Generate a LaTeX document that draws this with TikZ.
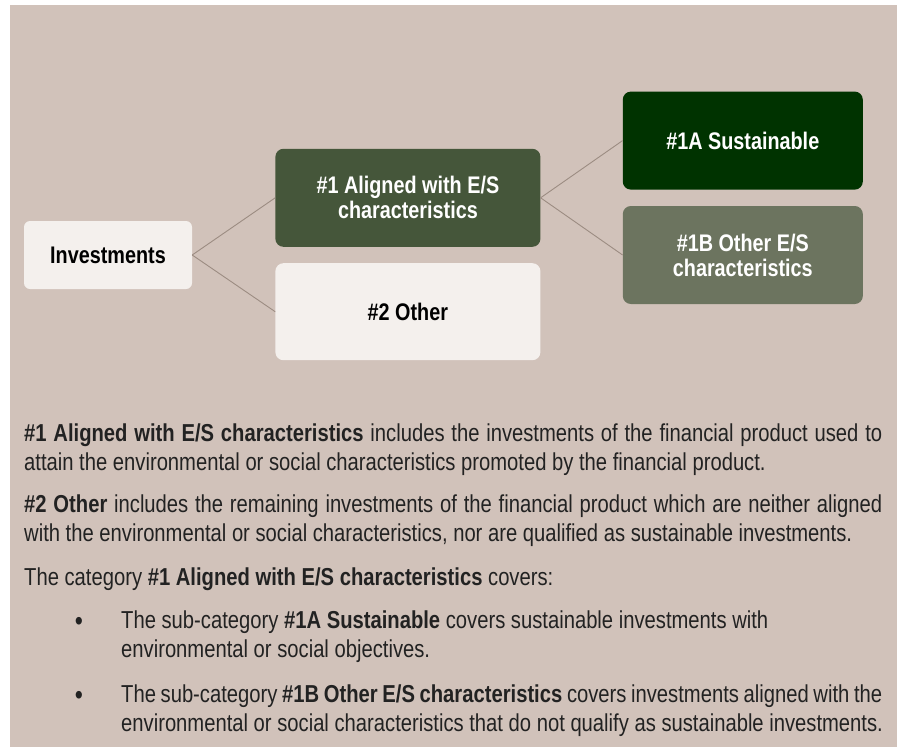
\documentclass[tikz,border=0pt]{standalone}
\usepackage{fontspec}
\setmainfont{Liberation Sans}[FakeStretch=0.825]
\usepackage{xcolor}
\usetikzlibrary{positioning}
\definecolor{sand}{RGB}{209,194,186}
\definecolor{shell}{RGB}{244,240,237}
\definecolor{olive}{RGB}{69,86,58}
\definecolor{forest}{RGB}{0,51,0}
\definecolor{sage}{RGB}{108,116,95}
\definecolor{twig}{RGB}{156,140,130}
\definecolor{ink}{RGB}{34,34,34}

\begin{document}
\begin{tikzpicture}[x=1pt, y=-1pt,
  box/.style={rounded corners=8pt, align=center, inner sep=0pt,
    font=\fontsize{24}{25}\selectfont\bfseries, minimum height=98pt},
  pale/.style={box, fill=shell, text=black},
  leaf/.style={box, text=white, minimum width=240pt},
  link/.style={draw=twig, line width=0.9pt},
  para/.style={anchor=base west, align=left, inner sep=0pt, text=ink,
    font=\fontsize{24.5}{29}\selectfont},
  dot/.style={para, anchor=base, font=\fontsize{28}{29}\selectfont}]
  \useasboundingbox (0,0) rectangle (903,747);
  \fill[white] (0,0) rectangle (903,747);
  \fill[sand] (10,5) rectangle (897,747);
  \node[pale, minimum width=168pt, minimum height=68pt, rounded corners=6pt] (inv) at (108,255) {Investments};
  \node[box, fill=olive, text=white, minimum width=265pt, anchor=south west,
    xshift=83pt, yshift=8pt] (al) at (inv.east) {\#1 Aligned with E/S\\characteristics};
  \node[pale, minimum width=265pt, minimum height=97pt, below=16pt of al] (oth) {\#2 Other};
  \node[leaf, fill=forest, anchor=south west, xshift=82pt, yshift=8pt] (sus) at (al.east) {\#1A Sustainable};
  \node[leaf, fill=sage, below=16pt of sus] (oes) {\#1B Other E/S\\characteristics};
  \foreach \s/\t in {inv/al,inv/oth,al/sus,al/oes} \draw[link] (\s.east) -- (\t.west);

  \node[para] (p1) at (24,470) {\makebox[858pt][s]{\textbf{\#1 Aligned with E/S characteristics} includes the investments of the financial product used to}\\attain the environmental or social characteristics promoted by the financial product.};
  \node[para] (p2) at (24,541) {\makebox[858pt][s]{\textbf{\#2 Other} includes the remaining investments of the financial product which are neither aligned}\\with the environmental or social characteristics, nor are qualified as sustainable investments.};
  \node[para] (p3) at (24,585) {The category \textbf{\#1 Aligned with E/S characteristics} covers:};
  \node[dot] (d1) at (79,630) {•};
  \node[para] (b1) at (121,657) {The sub-category \textbf{\#1A Sustainable} covers sustainable investments with\\environmental or social objectives.};
  \node[dot] (d2) at (79,704) {•};
  \node[para] (b2) at (121,731) {\makebox[761pt][s]{The sub-category \textbf{\#1B Other E/S characteristics} covers investments aligned with the}\\environmental or social characteristics that do not qualify as sustainable investments.};
\end{tikzpicture}
\end{document}
